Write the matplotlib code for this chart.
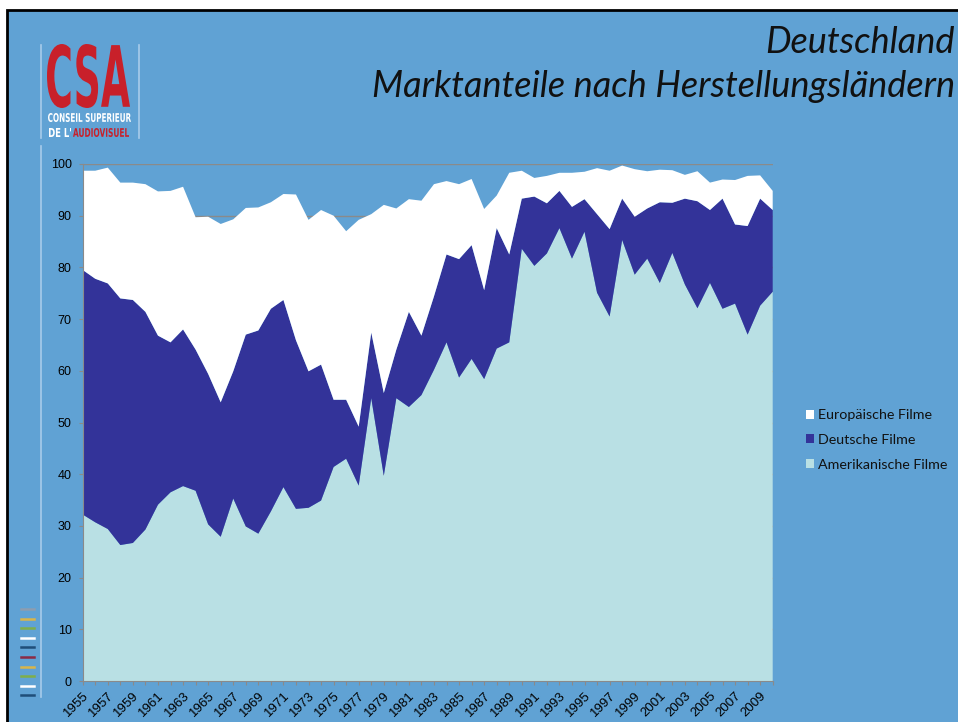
"""Deutschland - Marktanteile nach Herstellungsländern (stacked area)."""

import numpy as np
import matplotlib
matplotlib.use("Agg")
import matplotlib.pyplot as plt
from matplotlib.patches import Rectangle, Patch, PathPatch
from matplotlib.textpath import TextPath
from matplotlib.font_manager import FontProperties
from matplotlib.transforms import Affine2D
from matplotlib.lines import Line2D

# --- data (market share in %) ---
years = list(range(1955, 2011))

american = [32.2, 30.7, 29.4, 26.3, 26.7, 29.3, 34.1, 36.5, 37.7, 36.8,
            30.3, 27.9, 35.3, 29.9, 28.5, 32.8, 37.5, 33.3, 33.5, 34.9,
            41.4, 43.0, 37.8, 54.7, 39.7, 54.7, 53.0, 55.3, 60.2, 65.5,
            58.7, 62.3, 58.4, 64.3, 65.5, 83.6, 80.3, 82.7, 87.6, 81.7,
            86.9, 75.1, 70.5, 85.3, 78.6, 81.7, 77.0, 82.8, 76.7, 72.1,
            77.0, 72.0, 73.0, 67.0, 72.6, 75.3]

german = [47.3, 47.1, 47.5, 47.7, 47.0, 42.1, 32.7, 29.0, 30.3, 27.3,
          29.1, 26.0, 24.6, 37.1, 39.3, 39.2, 36.2, 32.6, 26.4, 26.3,
          13.0, 11.4, 11.4, 12.7, 16.0, 9.4, 18.4, 11.5, 14.2, 17.0,
          22.9, 22.0, 17.2, 23.3, 17.0, 9.7, 13.4, 9.7, 7.2, 10.0,
          6.3, 15.2, 16.9, 8.0, 11.2, 9.7, 15.6, 9.7, 16.6, 20.7,
          14.1, 21.3, 15.3, 21.0, 20.7, 15.8]

european = [19.2, 20.9, 22.4, 22.4, 22.7, 24.7, 27.9, 29.3, 27.6, 25.6,
            30.4, 34.5, 29.4, 24.5, 23.8, 20.6, 20.5, 28.2, 29.3, 29.9,
            35.6, 32.6, 40.0, 22.9, 36.4, 27.3, 21.8, 26.1, 21.7, 14.2,
            14.5, 12.8, 15.7, 6.3, 15.8, 5.4, 3.6, 5.3, 3.5, 6.6,
            5.3, 8.9, 11.3, 6.4, 9.2, 7.2, 6.3, 6.3, 4.6, 5.8,
            5.3, 3.7, 8.6, 9.7, 4.5, 3.7]

labels = ["Amerikanische Filme", "Deutsche Filme", "Europäische Filme"]
colors = ["#B9E0E4", "#333399", "#FFFFFF"]

BG = "#60A2D4"
W, H = 958, 722


def px(x, y):
    """pixel position (from top-left) -> figure fraction"""
    return x / W, 1 - y / H


def fit_text(fig, text, box, color, weight="bold"):
    # draw text as a path squeezed into a pixel box (x0, y0, x1, y1)
    tp = TextPath((0, 0), text, size=1,
                  prop=FontProperties(family="DejaVu Sans", weight=weight))
    ext = tp.get_extents()
    x0, y1 = px(box[0], box[1])
    x1, y0 = px(box[2], box[3])
    tr = (Affine2D().translate(-ext.x0, -ext.y0)
          .scale((x1 - x0) / ext.width, (y1 - y0) / ext.height)
          .translate(x0, y0))
    fig.add_artist(PathPatch(tr.transform_path(tp), facecolor=color,
                             edgecolor="none", transform=fig.transFigure))


fig = plt.figure(figsize=(W / 100, H / 100), dpi=100, facecolor="white")

# slide background with black frame on top/left
fig.add_artist(Rectangle(px(7, 740), 1.1, (740 - 10) / H, transform=fig.transFigure,
                         facecolor=BG, edgecolor="black", linewidth=2, zorder=-10))

# CSA logo
line_c = "#A8CBEA"
fig.add_artist(Line2D([px(41, 0)[0]] * 2, [px(0, 45)[1], px(0, 138)[1]],
                      transform=fig.transFigure, color=line_c, lw=1.2))
fig.add_artist(Line2D([px(41, 0)[0]] * 2, [px(0, 146)[1], px(0, 697)[1]],
                      transform=fig.transFigure, color=line_c, lw=1.2))
fig.add_artist(Line2D([px(139, 0)[0]] * 2, [px(0, 45)[1], px(0, 138)[1]],
                      transform=fig.transFigure, color=line_c, lw=1.2))
fit_text(fig, "CSA", (47, 44, 130, 108), "#C8202A")
fit_text(fig, "CONSEIL SUPERIEUR", (48, 113, 131, 122), "white")
fit_text(fig, "DE L'", (49, 128, 71, 137), "white")
fit_text(fig, "AUDIOVISUEL", (73, 128, 129, 137), "#C8202A")

# small coloured dashes at lower left
dash_colors = ["#8C9DB0", "#D9B54A", "#7FAE4A", "white", "#1F4E79",
               "#8B2B45", "#D9B54A", "#7FAE4A", "white", "#1F4E79"]
for i, c in enumerate(dash_colors):
    yy = px(0, 609 + i * 9.6)[1]
    fig.add_artist(Line2D([px(21, 0)[0], px(34, 0)[0]], [yy, yy],
                          transform=fig.transFigure, color=c, lw=1.8))

# titles
fig.text(px(955, 0)[0], px(0, 53)[1], "Deutschland", ha="right", va="baseline",
         fontsize=26, style="italic", family="Lato", color="#111111")
fig.text(px(955, 0)[0], px(0, 97)[1], "Marktanteile nach Herstellungsländern",
         ha="right", va="baseline", fontsize=26, style="italic", family="Lato",
         color="#111111")

# chart
l, b = px(82.7, 681)
r, t = px(772.7, 164)
ax = fig.add_axes([l, b, r - l, t - b])
ax.set_facecolor("none")
ax.stackplot(years, american, german, european, colors=colors, labels=labels,
             linewidth=0)
ax.set_xlim(1955, 2010)
ax.set_ylim(0, 100)
ax.set_yticks(range(0, 101, 10))
ax.yaxis.grid(True, color="#8A8A8A", lw=1)
ax.set_axisbelow(True)
for s in ["top", "right"]:
    ax.spines[s].set_visible(False)
for s in ["left", "bottom"]:
    ax.spines[s].set_color("#8A8A8A")
    ax.spines[s].set_zorder(5)
ax.tick_params(axis="y", length=3, color="#8A8A8A", labelsize=9, pad=5)
ax.set_xticks(years)
ax.set_xticklabels([str(y) if (y - 1955) % 2 == 0 else "" for y in years],
                   rotation=45, ha="right", va="top", rotation_mode="anchor",
                   fontsize=9.5)
ax.tick_params(axis="x", length=3, color="#8A8A8A", pad=3)
for lab in ax.get_xticklabels() + ax.get_yticklabels():
    lab.set_family("Liberation Sans")

# legend (top entry first)
handles = [Patch(facecolor=c) for c in colors][::-1]
fig.legend(handles, labels[::-1], loc="center left",
           bbox_to_anchor=(px(800, 0)[0], px(0, 440)[1]), frameon=False,
           handlelength=0.6, handleheight=0.6, handletextpad=0.25,
           labelspacing=0.9, prop={"family": "Lato", "size": 10.3},
           labelcolor="#111111", borderaxespad=0)

fig.savefig("out.png", dpi=100, facecolor="white")
